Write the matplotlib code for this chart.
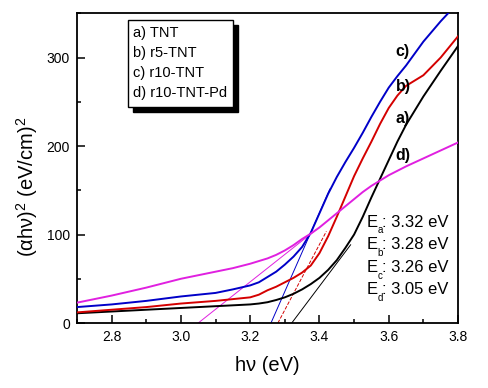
import numpy as np
import matplotlib.pyplot as plt
from matplotlib.patches import Rectangle
from matplotlib.ticker import MultipleLocator

plt.rcParams['font.family'] = ['Liberation Sans', 'DejaVu Sans']

# photon energy (eV)
hv = [2.70, 2.75, 2.80, 2.85, 2.90, 2.95, 3.00, 3.05, 3.10, 3.15, 3.20,
      3.225, 3.25, 3.275, 3.30, 3.325, 3.35, 3.375, 3.40, 3.425, 3.45, 3.475,
      3.50, 3.525, 3.55, 3.575, 3.60, 3.625, 3.65, 3.70, 3.75, 3.80]

# (alpha h nu)^2
tnt = [11, 12, 13, 14, 15, 16, 17, 18, 19, 20, 21,
       22, 23.5, 26, 29, 33, 38, 44, 51, 60, 71, 85,
       100, 120, 142, 163, 184, 205, 224, 256, 285, 313]
r5_tnt = [12, 13.5, 15, 16.5, 18, 20, 22, 23.5, 25, 27, 29,
          32, 37, 41, 46, 51, 57, 65, 79, 98, 120, 143,
          166, 186, 205, 225, 243, 257, 268, 280, 300, 324]
r10_tnt = [18, 19.5, 21, 23, 25, 27.5, 30, 32, 34, 38, 42.5,
           46, 52, 58, 66, 75, 86, 102, 124, 146, 165, 182,
           198, 215, 233, 250, 266, 279, 291, 318, 341, 362]
r10_tnt_pd = [23, 27, 31, 35.5, 40, 45, 50, 54, 58, 62, 67,
              70, 73, 77, 82, 88, 95, 101, 108, 116, 124, 132,
              140, 148, 155, 161, 167, 172, 177, 186, 195, 204]

legend_labels = ['a) TNT', 'b) r5-TNT', 'c) r10-TNT', 'd) r10-TNT-Pd']
curve_tags = ['a)', 'b)', 'c)', 'd)']
tag_y = [231, 267, 307, 189]

# band gap fits: intercept, slope, end of drawn line
eg = [3.32, 3.28, 3.26, 3.05]
fit_slope = [520, 740, 890, 310]
fit_end = [3.49, 3.42, 3.43, 3.39]
eg_names = ['a', 'b', 'c', 'd']

colors = ['black', '#d40000', '#0000c8', '#e020e0']
series = [tnt, r5_tnt, r10_tnt, r10_tnt_pd]

fig = plt.figure(figsize=(4.89, 3.88), dpi=100)
ax = fig.add_axes([0.1575, 0.1675, 0.7791, 0.7982])

for ys, c in zip(series, colors):
    ax.plot(hv, ys, color=c, lw=1.4, zorder=3)

for e, s, xe, c in zip(eg, fit_slope, fit_end, colors):
    xs = np.array([e, xe])
    ax.plot(xs, s * (xs - e), color=c, lw=0.7,
            ls='--' if c == '#d40000' else '-', zorder=2)

for t, y in zip(curve_tags, tag_y):
    ax.text(3.62, y, t, fontsize=11.5, fontweight='bold', va='center', ha='left')

# E_x: value labels, E / small subscript / rest
for i, (n, e) in enumerate(zip(eg_names, eg)):
    y = 114 - i * 25.5
    ax.text(3.537, y, 'E', fontsize=12, va='center', ha='left')
    ax.annotate(n, xy=(3.537, y), xytext=(7.4, -6), textcoords='offset points',
                fontsize=7, va='center', ha='left')
    ax.annotate(': %.2f eV' % e, xy=(3.537, y), xytext=(11.2, 0), textcoords='offset points',
                fontsize=12, va='center', ha='left')

ax.set_xlim(2.7, 3.8)
ax.set_ylim(0, 350)
ax.xaxis.set_major_locator(MultipleLocator(0.2))
ax.xaxis.set_minor_locator(MultipleLocator(0.1))
ax.yaxis.set_major_locator(MultipleLocator(100))
ax.yaxis.set_minor_locator(MultipleLocator(50))
ax.tick_params(which='both', direction='in', top=False, right=False,
               labelsize=10, width=1.1)
ax.tick_params(which='major', length=6, pad=5)
ax.tick_params(which='minor', length=3)
for sp in ax.spines.values():
    sp.set_linewidth(1.3)

ax.set_xlabel('h\u03bd (eV)', fontsize=14.5)
ax.set_ylabel('(\u03b1h\u03bd)$^{\\mathregular{2}}$ (eV/cm)$^{\\mathregular{2}}$', fontsize=14.5)
ax.xaxis.set_label_coords(0.5, -0.105)
ax.yaxis.set_label_coords(-0.098, 0.44)

# legend box with solid shadow
W, H = 489.0, 388.0
bx, by, bw, bh = 128 / W, 1 - 107 / H, 105 / W, 87 / H
fig.patches.append(Rectangle((bx + 5 / W, by - 5 / H), bw, bh, transform=fig.transFigure,
                             facecolor='black', edgecolor='black', zorder=5))
fig.patches.append(Rectangle((bx, by), bw, bh, transform=fig.transFigure,
                             facecolor='white', edgecolor='black', lw=1.0, zorder=6))
for i, lab in enumerate(legend_labels):
    fig.text(133 / W, 1 - (33 + 20 * i) / H, lab, fontsize=10.5, va='center', ha='left',
             zorder=7)

fig.savefig('out.png', dpi=100)
